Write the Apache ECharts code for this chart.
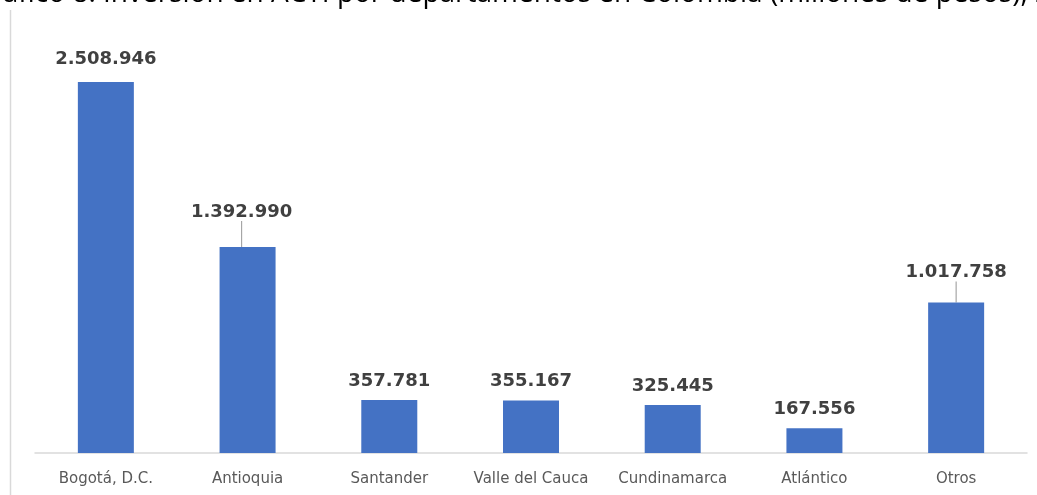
<!DOCTYPE html>
<html>
<head>
<meta charset="utf-8">
<script src="https://cdn.jsdelivr.net/npm/echarts@6/dist/echarts.min.js"></script>
<style>
html,body{margin:0;padding:0;background:#fff;}
#c{width:1037px;height:495px;}
</style>
</head>
<body>
<div id="c"></div>
<script>
const titleText = 'Gráfico 8. Inversión en ACTI por departamentos en Colombia (millones de pesos), 2021';
const categories = ['Bogotá, D.C.', 'Antioquia', 'Santander', 'Valle del Cauca', 'Cundinamarca', 'Atlántico', 'Otros'];
const values = [2508946, 1392990, 357781, 355167, 325445, 167556, 1017758];
const labelShift = [[0, -4], [-6, -16], [0, 0], [0, 0], [0, 0], [0, 0], [0, -11]];
const showLeader = [false, true, false, false, false, false, true];

function fmt(v) {
  return String(v).replace(/\B(?=(\d{3})+(?!\d))/g, '.');
}

const chart = echarts.init(document.getElementById('c'));
chart.setOption({
  animation: false,
  backgroundColor: '#fff',
  graphic: [
    {
      type: 'text', left: -29, top: -20,
      style: { text: titleText, font: '28px "Open Sans"', fill: '#000' }
    },
    {
      type: 'line', shape: { x1: 10.5, y1: 10, x2: 10.5, y2: 495 },
      style: { stroke: '#d9d9d9', lineWidth: 1.5 }
    }
  ],
  grid: { left: 35, right: 10, top: 9.4, bottom: 42 },
  xAxis: {
    type: 'category',
    data: categories,
    axisLine: { lineStyle: { color: '#d9d9d9', width: 1.5 } },
    axisTick: { show: false },
    axisLabel: { color: '#595959', fontSize: 15, fontFamily: 'DejaVu Sans', margin: 19, interval: 0 }
  },
  yAxis: {
    type: 'value', min: 0, max: 3000000,
    show: false, splitLine: { show: false }
  },
  series: [{
    type: 'bar',
    data: values.map((v, i) => ({ value: v, labelLine: { show: showLeader[i] } })),
    barWidth: 56,
    itemStyle: { color: '#4472C4' },
    label: {
      show: true, position: 'top', distance: 10,
      color: '#404040', fontSize: 18, fontWeight: 'bold', fontFamily: 'DejaVu Sans',
      formatter: p => fmt(p.value)
    },
    labelLine: { show: false, lineStyle: { color: '#a6a6a6', width: 1.2 } },
    labelLayout: p => ({ dx: labelShift[p.dataIndex][0], dy: labelShift[p.dataIndex][1] })
  }]
});
</script>
</body>
</html>
